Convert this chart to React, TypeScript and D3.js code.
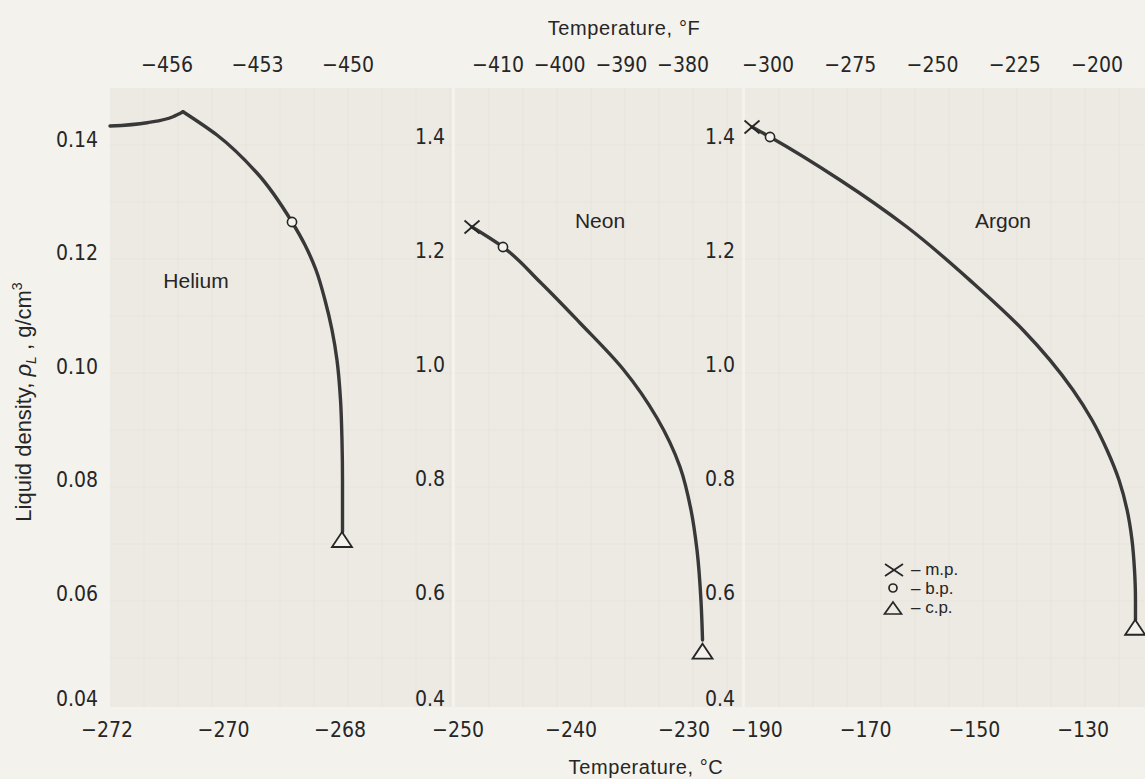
import React from "react";
import * as d3 from "d3";

// ---------- data ----------
const heliumLeftT = [-271.948, -271.313, -270.867, -270.695];
const heliumLeftRho = [0.14247, 0.14305, 0.14411, 0.14499];
const heliumRightT = [-270.695, -270.112, -269.425, -268.824, -268.601, -268.412, -268.258, -268.137, -268.052, -267.991, -267.966, -267.957, -267.957];
const heliumRightRho = [0.14499, 0.14088, 0.13418, 0.12554, 0.12148, 0.11707, 0.11178, 0.10649, 0.1012, 0.09414, 0.08709, 0.08004, 0.07086];
const heliumBP = [-268.824, 0.12554];
const heliumCP = [-267.966, 0.06945];

const neonT = [-248.76, -246.02, -242.74, -239.2, -235.4, -232.39, -230.35, -229.38, -228.85, -228.5, -228.36];
const neonRho = [1.2421, 1.207, 1.1456, 1.0737, 0.993, 0.907, 0.8211, 0.7456, 0.6754, 0.5877, 0.5175];
const neonMP = [-248.76, 1.2421];
const neonBP = [-246.02, 1.207];
const neonCP = [-228.36, 0.497];

const argonT = [-190.88, -187.57, -174.71, -162.39, -150.26, -141.07, -131.88, -128.38, -125.63, -123.42, -121.93, -121.03, -120.57, -120.39, -120.39];
const argonRho = [1.4175, 1.4, 1.3246, 1.2421, 1.1439, 1.0614, 0.9561, 0.9035, 0.8509, 0.7982, 0.7456, 0.693, 0.6404, 0.5877, 0.5526];
const argonMP = [-190.88, 1.4175];
const argonBP = [-187.57, 1.4];
const argonCP = [-120.45, 0.539];

const heliumCTicks = [-272, -270, -268];
const neonCTicks = [-250, -240, -230];
const argonCTicks = [-190, -170, -150, -130];
const heliumFTicks = [-456, -453, -450];
const neonFTicks = [-410, -400, -390, -380];
const argonFTicks = [-300, -275, -250, -225, -200];
const heliumYTicks = [0.04, 0.06, 0.08, 0.1, 0.12, 0.14];
const densityYTicks = [0.4, 0.6, 0.8, 1.0, 1.2, 1.4];

const legendItems = ["m.p.", "b.p.", "c.p."];

// ---------- layout ----------
const W = 1145;
const H = 779;
const TOP = 88;
const BOTTOM = 707;

const xHe = d3.scaleLinear().domain([-272, -268]).range([107, 340]);
const yHe = d3.scaleLinear().domain([0.04, 0.14]).range([707, 140]);
const fHe = d3.scaleLinear().domain([-456, -450]).range([167, 348]);

const xNe = d3.scaleLinear().domain([-250, -230]).range([458, 684]);
const yDen = d3.scaleLinear().domain([0.4, 1.4]).range([707, 137]);
const fNe = d3.scaleLinear().domain([-410, -380]).range([498, 683]);

const xAr = d3.scaleLinear().domain([-190, -130]).range([756.8, 1083.2]);
const fAr = d3.scaleLinear().domain([-300, -200]).range([768, 1097]);

const TICK_FONT = "'Liberation Sans Narrow', 'DejaVu Sans Condensed', 'Liberation Sans', sans-serif";
const TEXT_FONT = "'Liberation Sans', Arial, sans-serif";
const INK = "#262626";
const CURVE = "#383838";
const BG = "#f4f2ed";

const fmtMinus = (v: number) => (v < 0 ? "\u2212" + Math.abs(v) : String(v));
const fmtDen = d3.format(".2f");
const fmtDen1 = d3.format(".1f");

function zip(a: number[], b: number[]) {
  return a.map((v, i) => [v, b[i]] as [number, number]);
}

function curvePath(
  xs: d3.ScaleLinear<number, number>,
  ys: d3.ScaleLinear<number, number>,
  T: number[],
  R: number[],
  curve: d3.CurveFactory
) {
  const line = d3
    .line<[number, number]>()
    .x((d) => xs(d[0]))
    .y((d) => ys(d[1]))
    .curve(curve);
  return line(zip(T, R)) || "";
}

const Cross = ({ x, y }: { x: number; y: number }) => (
  <g stroke={INK} strokeWidth={1.8} fill="none">
    <line x1={x - 7.5} y1={y - 6.5} x2={x + 7.5} y2={y + 6.5} />
    <line x1={x - 7.5} y1={y + 6.5} x2={x + 7.5} y2={y - 6.5} />
  </g>
);
const Circ = ({ x, y }: { x: number; y: number }) => (
  <circle cx={x} cy={y} r={4.6} fill={BG} stroke={INK} strokeWidth={1.6} />
);
const Tri = ({ x, y }: { x: number; y: number }) => (
  <path d={`M${x},${y - 8} L${x + 10},${y + 7} L${x - 10},${y + 7} Z`} fill={BG} stroke={INK} strokeWidth={1.8} />
);

function Panel({ x0, x1 }: { x0: number; x1: number }) {
  const vs = d3.range(x0 + 34, x1, 34);
  const hs = d3.range(TOP + 57, BOTTOM, 57);
  return (
    <g>
      <rect x={x0} y={TOP} width={x1 - x0} height={BOTTOM - TOP} fill="#edeae4" />
      {vs.map((v, i) => (
        <line key={"v" + i} x1={v} x2={v} y1={TOP} y2={BOTTOM} stroke="#e7e3dc" strokeWidth={1} />
      ))}
      {hs.map((h, i) => (
        <line key={"h" + i} x1={x0} x2={x1} y1={h} y2={h} stroke="#e7e3dc" strokeWidth={1} />
      ))}
    </g>
  );
}

export default function App() {
  const tickStyle = { fontFamily: TICK_FONT, fontSize: 21, fill: INK } as React.CSSProperties;
  const textStyle = { fontFamily: TEXT_FONT, fontSize: 19, fill: INK } as React.CSSProperties;

  const yTickLabels = (
    ticks: number[],
    ys: d3.ScaleLinear<number, number>,
    xRight: number,
    fmt: (v: number) => string,
    key: string
  ) =>
    ticks.map((t, i) => (
      <text key={key + i} x={xRight} y={ys(t) + (i === 0 ? -1 : 7)} textAnchor="end" style={tickStyle}>
        {fmt(t)}
      </text>
    ));

  const xTickLabels = (ticks: number[], xs: d3.ScaleLinear<number, number>, y: number, key: string) =>
    ticks.map((t, i) => (
      <text key={key + i} x={xs(t)} y={y} textAnchor="middle" style={tickStyle}>
        {fmtMinus(t)}
      </text>
    ));

  return (
    <div style={{ position: "absolute", left: 0, top: 0, width: W, height: H }}>
      <svg width={W} height={H} viewBox={`0 0 ${W} ${H}`} style={{ display: "block" }}>
        <rect x={0} y={0} width={W} height={H} fill={BG} />
        <Panel x0={110} x1={452} />
        <Panel x0={455} x1={742} />
        <Panel x0={745} x1={1145} />

        {/* Titles */}
        <text x={624} y={35} textAnchor="middle" style={{ ...textStyle, fontSize: 20, letterSpacing: 0.6 }}>
          Temperature, °F
        </text>
        <text x={646} y={774} textAnchor="middle" style={{ ...textStyle, fontSize: 20, letterSpacing: 0.6 }}>
          Temperature, °C
        </text>
        <text transform="translate(31,402) rotate(-90)" textAnchor="middle" style={{ ...textStyle, fontSize: 22 }}>
          Liquid density,{" "}
          <tspan fontStyle="italic">ρ</tspan>
          <tspan fontStyle="italic" fontSize={14} dy={5}>L</tspan>
          <tspan dy={-5}> , g/cm</tspan>
          <tspan fontSize={14} dy={-9}>3</tspan>
        </text>

        {/* Top °F tick labels */}
        {xTickLabels(heliumFTicks, fHe, 72, "fh")}
        {xTickLabels(neonFTicks, fNe, 72, "fn")}
        {xTickLabels(argonFTicks, fAr, 72, "fa")}

        {/* Bottom °C tick labels */}
        {xTickLabels(heliumCTicks, xHe, 737, "ch")}
        {xTickLabels(neonCTicks, xNe, 737, "cn")}
        {xTickLabels(argonCTicks, xAr, 737, "ca")}

        {/* Y tick labels */}
        {yTickLabels(heliumYTicks, yHe, 98, fmtDen, "yh")}
        {yTickLabels(densityYTicks, yDen, 445, fmtDen1, "yn")}
        {yTickLabels(densityYTicks, yDen, 735, fmtDen1, "ya")}

        {/* Panel labels */}
        <text x={196} y={288} textAnchor="middle" style={{ ...textStyle, fontSize: 21 }}>Helium</text>
        <text x={600} y={228} textAnchor="middle" style={{ ...textStyle, fontSize: 21 }}>Neon</text>
        <text x={1003} y={228} textAnchor="middle" style={{ ...textStyle, fontSize: 21 }}>Argon</text>

        {/* Curves */}
        <g fill="none" stroke={CURVE} strokeWidth={3.4} strokeLinecap="round" strokeLinejoin="round">
          <path d={curvePath(xHe, yHe, heliumLeftT, heliumLeftRho, d3.curveMonotoneX)} />
          <path d={curvePath(xHe, yHe, heliumRightT, heliumRightRho, d3.curveMonotoneY)} />
          <path d={curvePath(xNe, yDen, neonT, neonRho, d3.curveMonotoneY)} />
          <path d={curvePath(xAr, yDen, argonT, argonRho, d3.curveMonotoneY)} />
        </g>

        {/* Markers */}
        <Circ x={xHe(heliumBP[0])} y={yHe(heliumBP[1])} />
        <Tri x={xHe(heliumCP[0])} y={yHe(heliumCP[1])} />
        <Cross x={xNe(neonMP[0])} y={yDen(neonMP[1])} />
        <Circ x={xNe(neonBP[0])} y={yDen(neonBP[1])} />
        <Tri x={xNe(neonCP[0])} y={yDen(neonCP[1])} />
        <Cross x={xAr(argonMP[0])} y={yDen(argonMP[1])} />
        <Circ x={xAr(argonBP[0])} y={yDen(argonBP[1])} />
        <Tri x={xAr(argonCP[0])} y={yDen(argonCP[1])} />

        {/* Legend */}
        <g>
          <g stroke={INK} strokeWidth={1.7}>
            <line x1={885} y1={564} x2={903} y2={576} />
            <line x1={885} y1={576} x2={903} y2={564} />
          </g>
          <circle cx={893} cy={588} r={4} fill="none" stroke={INK} strokeWidth={1.7} />
          <path d="M893,602 L901.5,614 L884.5,614 Z" fill="none" stroke={INK} strokeWidth={1.7} />
          {legendItems.map((t, i) => (
            <text key={t} x={911} y={575 + i * 19} style={{ ...textStyle, fontSize: 17 }}>
              {"\u2013 " + t}
            </text>
          ))}
        </g>
      </svg>
    </div>
  );
}
